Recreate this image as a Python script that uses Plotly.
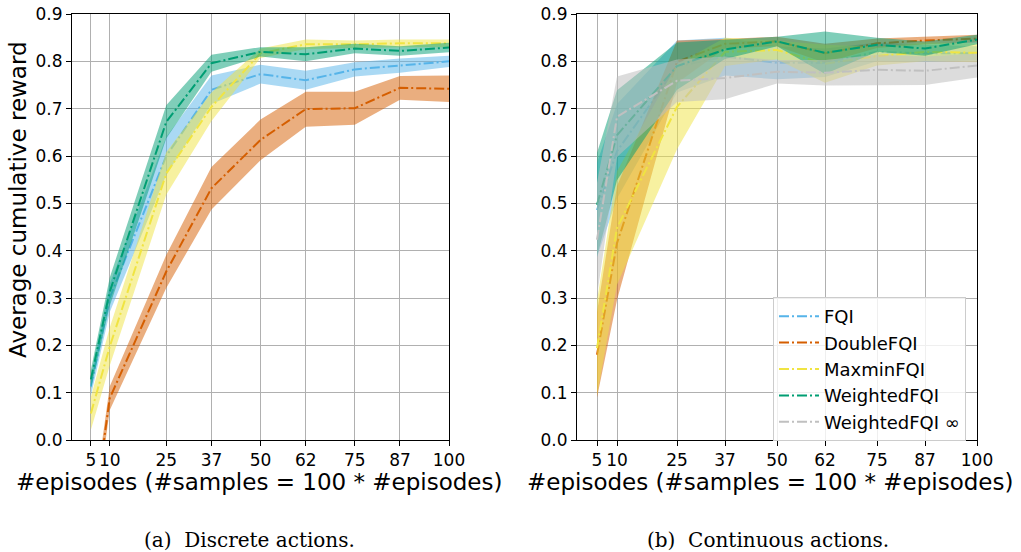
import plotly.graph_objects as go

x_episodes = [5, 10, 25, 37, 50, 62, 75, 87, 100]
x_ticks = [5, 10, 25, 37, 50, 62, 75, 87, 100]
y_ticks = [0.0, 0.1, 0.2, 0.3, 0.4, 0.5, 0.6, 0.7, 0.8, 0.9]

# Discrete actions (left)
d_fqi_mean = [0.113, 0.300, 0.600, 0.740, 0.773, 0.760, 0.783, 0.791, 0.800]
d_fqi_std = [0.020, 0.030, 0.040, 0.030, 0.020, 0.020, 0.015, 0.015, 0.012]
d_double_mean = [-0.205, 0.088, 0.356, 0.532, 0.634, 0.699, 0.701, 0.744, 0.742]
d_double_std = [0.030, 0.025, 0.035, 0.045, 0.043, 0.037, 0.035, 0.025, 0.028]
d_maxmin_mean = [0.056, 0.197, 0.563, 0.704, 0.817, 0.836, 0.836, 0.838, 0.838]
d_maxmin_std = [0.035, 0.040, 0.045, 0.030, 0.010, 0.010, 0.008, 0.008, 0.008]
d_weighted_mean = [0.128, 0.313, 0.672, 0.796, 0.820, 0.815, 0.827, 0.822, 0.829]
d_weighted_std = [0.020, 0.030, 0.035, 0.018, 0.010, 0.015, 0.010, 0.010, 0.010]

# Continuous actions (right)
c_fqi_mean = [0.486, 0.610, 0.789, 0.810, 0.797, 0.797, 0.820, 0.817, 0.817]
c_fqi_std = [0.100, 0.100, 0.055, 0.040, 0.035, 0.030, 0.020, 0.018, 0.015]
c_double_mean = [0.180, 0.416, 0.799, 0.837, 0.842, 0.817, 0.838, 0.844, 0.848]
c_double_std = [0.090, 0.120, 0.045, 0.010, 0.010, 0.020, 0.010, 0.008, 0.008]
c_maxmin_mean = [0.194, 0.448, 0.704, 0.820, 0.824, 0.795, 0.811, 0.820, 0.818]
c_maxmin_std = [0.100, 0.120, 0.090, 0.030, 0.020, 0.040, 0.020, 0.020, 0.020]
c_weighted_mean = [0.497, 0.644, 0.790, 0.825, 0.842, 0.818, 0.835, 0.827, 0.846]
c_weighted_std = [0.110, 0.095, 0.050, 0.020, 0.010, 0.045, 0.015, 0.015, 0.010]
c_winf_mean = [0.423, 0.683, 0.759, 0.765, 0.778, 0.776, 0.782, 0.780, 0.791]
c_winf_std = [0.120, 0.085, 0.045, 0.045, 0.025, 0.027, 0.032, 0.030, 0.025]

names = ["FQI", "DoubleFQI", "MaxminFQI", "WeightedFQI", "WeightedFQI ∞"]
colors = ["#56B4E9", "#D55E00", "#F0E442", "#009E73", "#C0C0C0"]
fills = ["rgba(86,180,233,0.5)", "rgba(213,94,0,0.5)", "rgba(240,228,66,0.5)",
         "rgba(0,158,115,0.5)", "rgba(192,192,192,0.55)"]

left = [(d_fqi_mean, d_fqi_std), (d_double_mean, d_double_std),
        (d_maxmin_mean, d_maxmin_std), (d_weighted_mean, d_weighted_std)]
right = [(c_fqi_mean, c_fqi_std), (c_double_mean, c_double_std),
         (c_maxmin_mean, c_maxmin_std), (c_weighted_mean, c_weighted_std),
         (c_winf_mean, c_winf_std)]

fig = go.Figure()
DASH = "10px,3px,2px,3px"


def add_series(data, xa, ya, legend):
    for i, (m, s) in enumerate(data):
        up = [a + b for a, b in zip(m, s)]
        lo = [a - b for a, b in zip(m, s)]
        fig.add_trace(go.Scatter(
            x=x_episodes + x_episodes[::-1], y=up + lo[::-1], fill="toself",
            fillcolor=fills[i], line=dict(width=0), mode="lines",
            hoverinfo="skip", showlegend=False, xaxis=xa, yaxis=ya))
        fig.add_trace(go.Scatter(
            x=x_episodes, y=m, mode="lines", name=names[i],
            line=dict(color=colors[i], width=2, dash=DASH),
            showlegend=legend, xaxis=xa, yaxis=ya))


add_series(left, "x", "y", False)
add_series(right, "x2", "y2", True)

SANS = "DejaVu Sans"
tickfont = dict(family=SANS, size=17, color="black")
ax_common = dict(range=[0, 100], tickvals=x_ticks, ticktext=[str(t) for t in x_ticks],
                 showgrid=True, gridcolor="#b0b0b0", gridwidth=1,
                 showline=True, linecolor="black", linewidth=1, mirror=True,
                 ticks="outside", ticklen=5, tickcolor="black", tickfont=tickfont,
                 zeroline=False, automargin=False)
ay_common = dict(range=[0, 0.9], tickvals=y_ticks, ticktext=[f"{t:.1f}" for t in y_ticks],
                 showgrid=True, gridcolor="#b0b0b0", gridwidth=1,
                 showline=True, linecolor="black", linewidth=1, mirror=True,
                 ticks="outside", ticklen=5, tickcolor="black", tickfont=tickfont,
                 zeroline=False, automargin=False)

W, H = 1021, 552
fig.update_layout(
    width=W, height=H, margin=dict(l=0, r=0, t=0, b=0, autoexpand=False),
    paper_bgcolor="white", plot_bgcolor="white",
    xaxis=dict(domain=[72 / W, 449 / W], anchor="y", **ax_common),
    yaxis=dict(domain=[1 - 440 / H, 1 - 14 / H], anchor="x", **ay_common),
    xaxis2=dict(domain=[577 / W, 977 / W], anchor="y2", **ax_common),
    yaxis2=dict(domain=[1 - 440 / H, 1 - 14 / H], anchor="x2", **ay_common),
    legend=dict(x=773 / W, y=1 - 297 / H, xanchor="left", yanchor="top",
                bgcolor="rgba(255,255,255,0.8)", bordercolor="#cccccc", borderwidth=1,
                font=dict(family=SANS, size=18, color="black"),
                tracegroupgap=0, itemwidth=40),
    showlegend=True,
)

title_font = dict(family=SANS, size=23, color="black")
cap_font = dict(family="DejaVu Serif", size=20, color="black")
fig.add_annotation(x=18 / W, y=1 - 200 / H, xref="paper", yref="paper",
                   text="Average cumulative reward", textangle=-90, showarrow=False,
                   font=title_font, xanchor="center", yanchor="middle")
fig.add_annotation(x=259 / W, y=1 - 482 / H, xref="paper", yref="paper",
                   text="#episodes (#samples = 100 * #episodes)", showarrow=False,
                   font=title_font, xanchor="center", yanchor="middle")
fig.add_annotation(x=770 / W, y=1 - 482 / H, xref="paper", yref="paper",
                   text="#episodes (#samples = 100 * #episodes)", showarrow=False,
                   font=title_font, xanchor="center", yanchor="middle")
fig.add_annotation(x=249 / W, y=1 - 540 / H, xref="paper", yref="paper",
                   text="(a)  Discrete actions.", showarrow=False,
                   font=cap_font, xanchor="center", yanchor="middle")
fig.add_annotation(x=768 / W, y=1 - 540 / H, xref="paper", yref="paper",
                   text="(b)  Continuous actions.", showarrow=False,
                   font=cap_font, xanchor="center", yanchor="middle")

fig.write_html("out.html")
